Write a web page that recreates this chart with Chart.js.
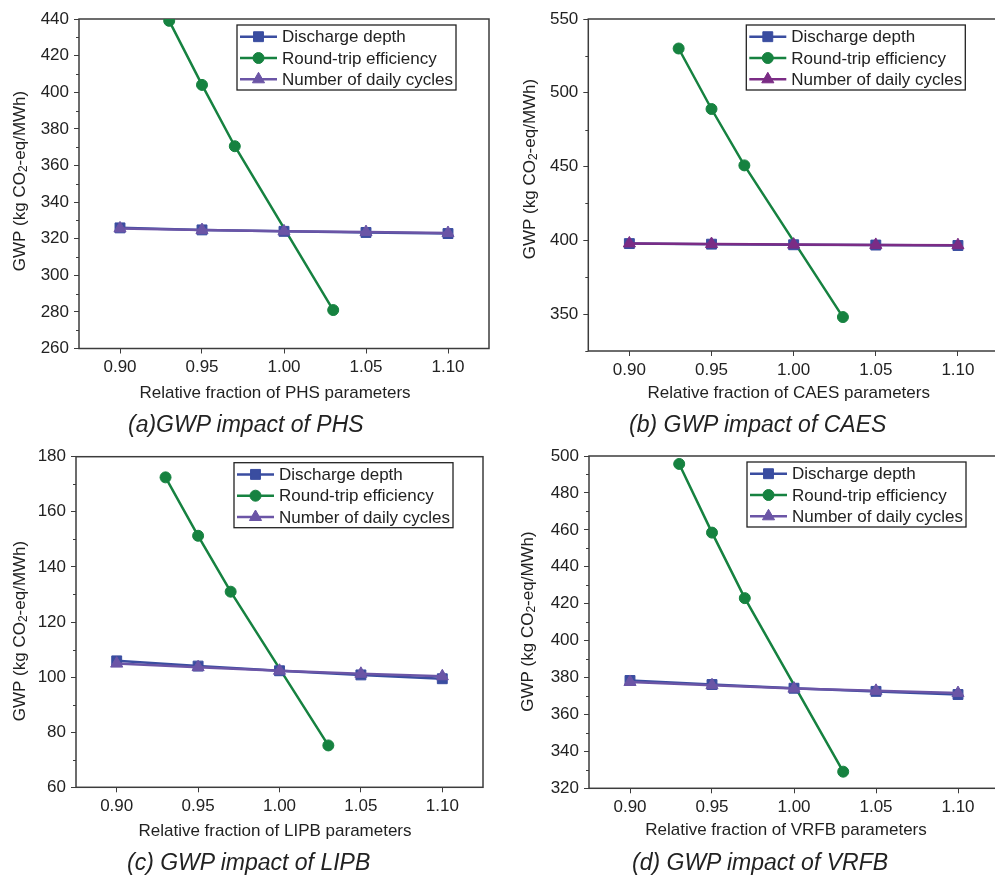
<!DOCTYPE html>
<html lang="en">
<head>
<meta charset="UTF-8">
<title>GWP sensitivity</title>
<script src="https://cdn.jsdelivr.net/npm/chart.js"></script>
<style>
  html, body { margin: 0; padding: 0; background: #fff; overflow: hidden; width: 995px; height: 875px; }
  .panel { position: absolute; }
  .caption { position: absolute; font-family: "Liberation Sans", Arial, sans-serif; font-style: italic;
             font-size: 23px; line-height: 23px; color: #222; white-space: nowrap; }
</style>
</head>
<body>
<div class="panel" style="left:0;top:0"><canvas id="chartA" width="497" height="437"></canvas></div>
<div class="panel" style="left:497px;top:0"><canvas id="chartB" width="510" height="437"></canvas></div>
<div class="panel" style="left:0;top:437px"><canvas id="chartC" width="497" height="438"></canvas></div>
<div class="panel" style="left:497px;top:437px"><canvas id="chartD" width="510" height="438"></canvas></div>

<div class="caption" style="left:128px;top:413px">(a)GWP impact of PHS</div>
<div class="caption" style="left:629px;top:413px">(b) GWP impact of CAES</div>
<div class="caption" style="left:127px;top:851px">(c) GWP impact of LIPB</div>
<div class="caption" style="left:632px;top:851px">(d) GWP impact of VRFB</div>

<script>
    // Data
    const seriesNames = ['Discharge depth', 'Round-trip efficiency', 'Number of daily cycles'];
    const xTicks = [0.90, 0.95, 1.00, 1.05, 1.10];
    const xDepth = [0.90, 0.95, 1.00, 1.05, 1.10];
    const xCycles = [0.90, 0.95, 1.00, 1.05, 1.10];
    const xEfficiency = [0.93, 0.95, 0.97, 1.03];

    // (a) PHS
    const phsTicks = [260, 280, 300, 320, 340, 360, 380, 400, 420, 440];
    const phsDepth = [325.9, 324.8, 324.0, 323.4, 322.8];
    const phsEfficiency = [439, 404, 370.5, 281];
    const phsCycles = [325.6, 324.7, 324.0, 323.6, 323.1];

    // (b) CAES
    const caesTicks = [350, 400, 450, 500, 550];
    const caesDepth = [397.8, 397.4, 397.0, 396.8, 396.5];
    const caesEfficiency = [530, 489, 450.8, 348];
    const caesCycles = [397.9, 397.5, 397.1, 396.9, 396.7];

    // (c) LIPB
    const lipbTicks = [60, 80, 100, 120, 140, 160, 180];
    const lipbDepth = [105.9, 104.0, 102.3, 100.8, 99.4];
    const lipbEfficiency = [172.5, 151.3, 131, 75.2];
    const lipbCycles = [104.9, 103.6, 102.3, 101.2, 100.3];

    // (d) VRFB
    const vrfbTicks = [320, 340, 360, 380, 400, 420, 440, 460, 480, 500];
    const vrfbDepth = [378.4, 376.2, 374.2, 372.5, 370.8];
    const vrfbEfficiency = [495.7, 458.5, 423, 329];
    const vrfbCycles = [377.6, 375.8, 374.0, 372.8, 371.6];

    // Styles
    const FONT = '"Liberation Sans", Arial, sans-serif';
    const TEXT = '#222';
    const AXIS = '#3c3c3c';
    const BLUE = '#3a4da0';
    const GREEN = '#168240';
    const PURPLE = '#6b55a6';
    const PLUM = '#7b2c85';

    // Cadre autour de la zone de tracé + graduations mineures
    const frame = {
        id: 'frame',
        beforeDatasetsDraw(chart) {
            const { ctx, chartArea: a } = chart;
            const y = chart.scales.y;
            ctx.save();
            ctx.strokeStyle = AXIS;
            ctx.lineWidth = 1.5;
            ctx.strokeRect(a.left, a.top, a.right - a.left, a.bottom - a.top);
            ctx.lineWidth = 1;
            const vals = y.ticks.map(t => t.value);
            const step = vals[1] - vals[0];
            ctx.beginPath();
            for (let v = vals[0] - step / 2; v <= y.max; v += step) {
                if (v < y.min) continue;
                const py = Math.round(y.getPixelForValue(v)) + 0.5;
                ctx.moveTo(a.left - 3, py);
                ctx.lineTo(a.left, py);
            }
            ctx.stroke();
            ctx.restore();
        }
    };

    // Titres des axes (avec l'indice du CO2)
    const axisTitles = {
        id: 'axisTitles',
        afterDraw(chart, args, opts) {
            const { ctx } = chart;
            ctx.save();
            ctx.fillStyle = TEXT;
            ctx.textBaseline = 'middle';
            ctx.textAlign = 'center';
            ctx.font = '17px ' + FONT;
            ctx.fillText(opts.xText, opts.xPos[0], opts.xPos[1]);

            const parts = [['GWP (kg CO', 17, 0], ['2', 12, 4], ['-eq/MWh)', 17, 0]];
            let total = 0;
            const widths = parts.map(p => {
                ctx.font = p[1] + 'px ' + FONT;
                const w = ctx.measureText(p[0]).width;
                total += w;
                return w;
            });
            ctx.translate(opts.yPos[0], opts.yPos[1]);
            ctx.rotate(-Math.PI / 2);
            ctx.textAlign = 'left';
            let x = -total / 2;
            parts.forEach((p, i) => {
                ctx.font = p[1] + 'px ' + FONT;
                ctx.fillText(p[0], x, p[2]);
                x += widths[i];
            });
            ctx.restore();
        }
    };

    // Légende encadrée (trait + marqueur)
    const boxLegend = {
        id: 'boxLegend',
        afterDraw(chart) {
            const { ctx, chartArea } = chart;
            const ds = chart.data.datasets;
            ctx.save();
            ctx.font = '17px ' + FONT;
            const textW = Math.max(...ds.map(d => ctx.measureText(d.label).width));
            const bx = chartArea.left + 158;
            const by = chartArea.top + 6;
            const bw = 45 + textW + 3;
            const bh = 65;
            ctx.fillStyle = '#fff';
            ctx.fillRect(bx, by, bw, bh);
            ctx.strokeStyle = '#222';
            ctx.lineWidth = 1.3;
            ctx.strokeRect(bx, by, bw, bh);
            ds.forEach((d, i) => {
                const cy = by + 11.7 + i * 21.3;
                ctx.strokeStyle = d.borderColor;
                ctx.lineWidth = d.borderWidth;
                ctx.beginPath();
                ctx.moveTo(bx + 3, cy);
                ctx.lineTo(bx + 40, cy);
                ctx.stroke();
                ctx.fillStyle = d.borderColor;
                ctx.lineWidth = 1;
                Chart.helpers.drawPoint(ctx, { pointStyle: d.pointStyle, radius: d.pointRadius, borderWidth: 1, rotation: 0 }, bx + 21.5, cy);
                ctx.fillStyle = TEXT;
                ctx.textBaseline = 'middle';
                ctx.textAlign = 'left';
                ctx.fillText(d.label, bx + 45, cy + 1);
            });
            ctx.restore();
        }
    };

    function points(xs, ys) {
        return xs.map((x, i) => ({ x: x, y: ys[i] }));
    }

    function serie(label, data, color, style, radius, order) {
        return {
            label: label,
            data: data,
            borderColor: color,
            backgroundColor: color,
            pointBackgroundColor: color,
            pointBorderColor: color,
            pointBorderWidth: 1,
            borderWidth: 2.5,
            pointStyle: style,
            pointRadius: radius,
            order: order
        };
    }

    function makeChart(id, geo, yTicks, yMin, yMax, depth, efficiency, cycles, cyclesColor, titles) {
        const canvas = document.getElementById(id);
        const W = canvas.width, H = canvas.height;
        return new Chart(canvas, {
            type: 'line',
            data: {
                datasets: [
                    serie(seriesNames[0], points(xDepth, depth), BLUE, 'rect', 7, 2),
                    serie(seriesNames[1], points(xEfficiency, efficiency), GREEN, 'circle', 5.5, 3),
                    serie(seriesNames[2], points(xCycles, cycles), cyclesColor, 'triangle', 7, 1)
                ]
            },
            options: {
                responsive: false,
                animation: false,
                events: [],
                layout: { padding: { left: 0, top: geo.top, right: W - geo.right, bottom: 0 } },
                plugins: {
                    legend: { display: false },
                    tooltip: { enabled: false },
                    axisTitles: titles
                },
                scales: {
                    x: {
                        type: 'linear',
                        min: 0.875,
                        max: 1.125,
                        afterBuildTicks: s => { s.ticks = xTicks.map(v => ({ value: v })); },
                        afterFit: s => { s.height = H - geo.bottom; },
                        ticks: {
                            callback: v => Number(v).toFixed(2),
                            font: { family: FONT, size: 17 },
                            color: TEXT,
                            padding: 4,
                            maxRotation: 0,
                            autoSkip: false
                        },
                        grid: { drawOnChartArea: false, tickLength: 5, tickColor: AXIS, tickWidth: 1 },
                        border: { display: false }
                    },
                    y: {
                        type: 'linear',
                        min: yMin,
                        max: yMax,
                        afterBuildTicks: s => { s.ticks = yTicks.map(v => ({ value: v })); },
                        afterFit: s => { s.width = geo.left; },
                        ticks: {
                            font: { family: FONT, size: 17 },
                            color: TEXT,
                            padding: 5,
                            autoSkip: false
                        },
                        grid: { drawOnChartArea: false, tickLength: 5, tickColor: AXIS, tickWidth: 1 },
                        border: { display: false }
                    }
                }
            },
            plugins: [frame, axisTitles, boxLegend]
        });
    }

    makeChart('chartA', { left: 79, top: 19, right: 490, bottom: 348.5 }, phsTicks, 260, 440,
        phsDepth, phsEfficiency, phsCycles, PURPLE,
        { xText: 'Relative fraction of PHS parameters', xPos: [275, 393], yPos: [20, 181] });

    makeChart('chartB', { left: 91.3, top: 19, right: 504, bottom: 351 }, caesTicks, 325, 550,
        caesDepth, caesEfficiency, caesCycles, PLUM,
        { xText: 'Relative fraction of CAES parameters', xPos: [291.7, 393], yPos: [33, 169] });

    makeChart('chartC', { left: 76, top: 19.7, right: 483, bottom: 350.3 }, lipbTicks, 60, 180,
        lipbDepth, lipbEfficiency, lipbCycles, PURPLE,
        { xText: 'Relative fraction of LIPB parameters', xPos: [275, 394.7], yPos: [20, 194] });

    makeChart('chartD', { left: 92, top: 19, right: 504.5, bottom: 351.3 }, vrfbTicks, 320, 500,
        vrfbDepth, vrfbEfficiency, vrfbCycles, PURPLE,
        { xText: 'Relative fraction of VRFB parameters', xPos: [289, 393.7], yPos: [31, 184.5] });
</script>
</body>
</html>
